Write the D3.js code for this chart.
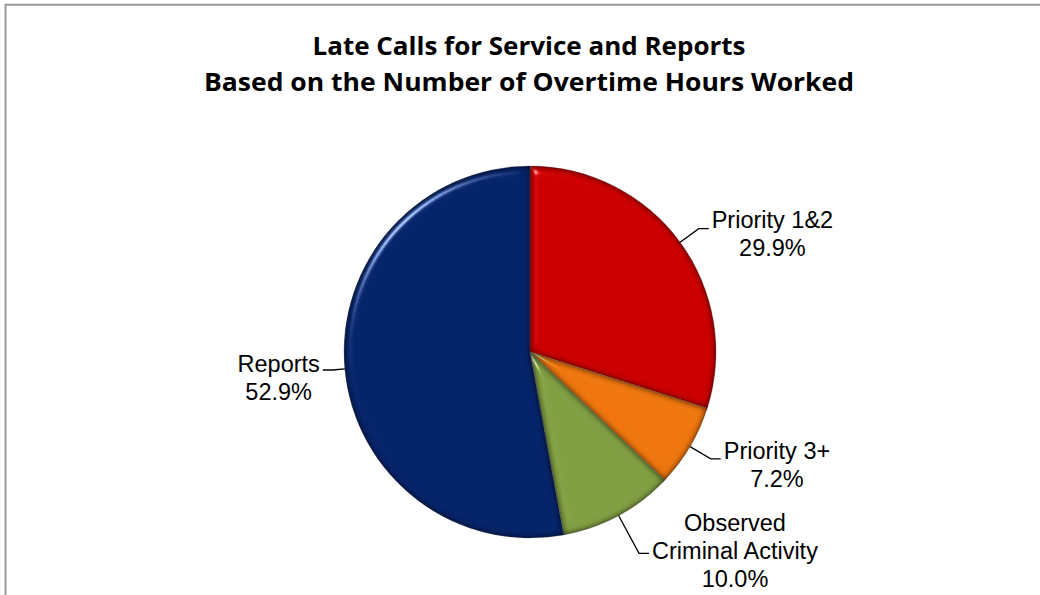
<!DOCTYPE html>
<html>
<head>
<meta charset="utf-8">
<script src="https://cdn.jsdelivr.net/npm/d3@7"></script>
<style>
  body { margin: 0; background: #fff; }
  svg { display: block; }
</style>
</head>
<body>
<svg id="chart" width="1040" height="595"></svg>
<script>
'use strict';

// data
var categories = ['Priority 1&2', 'Priority 3+', 'Observed Criminal Activity', 'Reports'];
var shares = [29.9, 7.2, 10.0, 52.9];
var labelLines = [
    ['Priority 1&2', '29.9%'],
    ['Priority 3+', '7.2%'],
    ['Observed', 'Criminal Activity', '10.0%'],
    ['Reports', '52.9%']
];
var colors = ['#cc0000', '#f0770f', '#82a043', '#062469'];
var titleLines = ['Late Calls for Service and Reports', 'Based on the Number of Overtime Hours Worked'];

// layout
var W = 1040, H = 595;
var CX = 530, CY = 352, R = 186;
var leaderLen = [23, 24, 43, 12];     // distance from rim to the elbow
var firstBaseline = [-1, 0, -22, 2];  // first text baseline relative to leader end
var LINE_H = 28;

var svg = d3.select('#chart');

// frame
svg.append('path')
    .attr('d', 'M5.5,' + H + 'V4.8H' + W)
    .attr('fill', 'none')
    .attr('stroke', '#9a9a9a')
    .attr('stroke-width', 2);

// title
svg.append('g').selectAll('text')
    .data(titleLines)
    .enter()
    .append('text')
    .attr('x', 529)
    .attr('y', function(d, i) { return 55 + i * 36; })
    .attr('text-anchor', 'middle')
    .attr('textLength', function(d, i) { return i === 0 ? 433 : 650; })
    .attr('lengthAdjust', 'spacingAndGlyphs')
    .style('font-family', '"Open Sans", "Liberation Sans", sans-serif')
    .style('font-weight', 700)
    .style('font-size', '25px')
    .style('fill', '#000')
    .text(function(d) { return d; });

// bevel filter, rough look of the Excel 3d slices
var defs = svg.append('defs');
var f = defs.append('filter')
    .attr('id', 'bevel')
    .attr('color-interpolation-filters', 'sRGB')
    .attr('x', '-10%').attr('y', '-10%')
    .attr('width', '120%').attr('height', '120%');
f.append('feGaussianBlur')
    .attr('in', 'SourceAlpha')
    .attr('stdDeviation', 4)
    .attr('result', 'blur');
f.append('feSpecularLighting')
    .attr('in', 'blur')
    .attr('surfaceScale', 5)
    .attr('specularConstant', 0.7)
    .attr('specularExponent', 60)
    .attr('lighting-color', '#ffffff')
    .attr('result', 'spec')
    .append('feDistantLight')
    .attr('azimuth', 225)
    .attr('elevation', 40);
f.append('feComposite')
    .attr('in', 'spec')
    .attr('in2', 'SourceAlpha')
    .attr('operator', 'in')
    .attr('result', 'specOut');
f.append('feGaussianBlur')
    .attr('in', 'SourceAlpha')
    .attr('stdDeviation', 3)
    .attr('result', 'blur2');
f.append('feComposite')
    .attr('in', 'SourceAlpha')
    .attr('in2', 'blur2')
    .attr('operator', 'arithmetic')
    .attr('k2', 1)
    .attr('k3', -1)
    .attr('result', 'edge');
f.append('feFlood')
    .attr('flood-color', '#000')
    .attr('flood-opacity', 0.8);
f.append('feComposite')
    .attr('in2', 'edge')
    .attr('operator', 'in')
    .attr('result', 'shadow');
f.append('feComposite')
    .attr('in', 'SourceGraphic')
    .attr('in2', 'specOut')
    .attr('operator', 'arithmetic')
    .attr('k2', 1)
    .attr('k3', 1)
    .attr('result', 'lit');
var merge = f.append('feMerge');
merge.append('feMergeNode').attr('in', 'lit');
merge.append('feMergeNode').attr('in', 'shadow');

var data = categories.map(function(c, i) {
    return { name: c, value: shares[i], color: colors[i], lines: labelLines[i], i: i };
});

var pie = d3.pie()
    .sort(null)
    .value(function(d) { return d.value; });

var arc = d3.arc()
    .innerRadius(0)
    .outerRadius(R);

var arcs = pie(data);

var pieGroup = svg.append('g')
    .attr('transform', 'translate(' + CX + ',' + CY + ')');

pieGroup.selectAll('path.slice')
    .data(arcs)
    .enter()
    .append('path')
    .attr('class', 'slice')
    .attr('d', arc)
    .attr('fill', function(d) { return d.data.color; })
    .attr('stroke', 'rgba(90,90,90,0.6)')
    .attr('stroke-width', 0.6)
    .attr('filter', 'url(#bevel)');

// leader lines and labels
var labelGroup = svg.append('g');

arcs.forEach(function(d) {
    var i = d.data.i;
    var a = (d.startAngle + d.endAngle) / 2;
    var sx = CX + Math.sin(a) * R;
    var sy = CY - Math.cos(a) * R;
    var ex = CX + Math.sin(a) * (R + leaderLen[i]);
    var ey = CY - Math.cos(a) * (R + leaderLen[i]);
    var right = Math.sin(a) > 0;
    var hx = ex + (right ? 10 : -10);

    labelGroup.append('path')
        .attr('d', 'M' + sx + ',' + sy + 'L' + ex + ',' + ey + 'L' + hx + ',' + ey)
        .attr('fill', 'none')
        .attr('stroke', '#000')
        .attr('stroke-width', 1.3);

    var txt = labelGroup.append('text')
        .style('font-family', '"Liberation Sans", Arial, sans-serif')
        .style('font-size', '23.5px')
        .style('fill', '#000')
        .attr('text-anchor', 'middle');

    var spans = txt.selectAll('tspan')
        .data(d.data.lines)
        .enter()
        .append('tspan')
        .attr('y', function(l, k) { return ey + firstBaseline[i] + k * LINE_H; })
        .text(function(l) { return l; });

    var widest = 0;
    spans.each(function() {
        widest = Math.max(widest, this.getComputedTextLength());
    });
    var mid = right ? hx + 3 + widest / 2 : hx - 3 - widest / 2;
    spans.attr('x', mid);
});
</script>
</body>
</html>
